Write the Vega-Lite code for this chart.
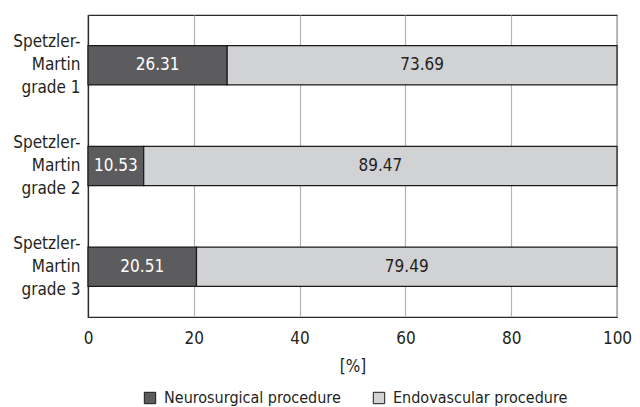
{
  "$schema": "https://vega.github.io/schema/vega-lite/v6.json",
  "autosize": {"type": "none"},
  "padding": {"left": 88, "top": 15, "right": 23, "bottom": 90},
  "width": 529,
  "height": 302,
  "background": "white",
  "config": {
    "font": "DejaVu Sans Condensed, Liberation Sans, sans-serif",
    "view": {"stroke": "#2a2a2a", "strokeWidth": 1.2},
    "axis": {"labelFont": "DejaVu Sans Condensed, Liberation Sans, sans-serif", "titleFont": "DejaVu Sans Condensed, Liberation Sans, sans-serif", "labelFontSize": 17, "titleFontSize": 17, "labelColor": "#231f20", "titleColor": "#231f20", "titleFontWeight": "normal"},
    "legend": {"labelFont": "DejaVu Sans Condensed, Liberation Sans, sans-serif", "labelFontSize": 16, "labelColor": "#231f20", "labelLimit": 400}
  },
  "data": {
    "values": [
      {"grade": "Spetzler-Martin grade 1", "procedure": "Neurosurgical procedure", "value": 26.31},
      {"grade": "Spetzler-Martin grade 1", "procedure": "Endovascular procedure", "value": 73.69},
      {"grade": "Spetzler-Martin grade 2", "procedure": "Neurosurgical procedure", "value": 10.53},
      {"grade": "Spetzler-Martin grade 2", "procedure": "Endovascular procedure", "value": 89.47},
      {"grade": "Spetzler-Martin grade 3", "procedure": "Neurosurgical procedure", "value": 20.51},
      {"grade": "Spetzler-Martin grade 3", "procedure": "Endovascular procedure", "value": 79.49}
    ]
  },
  "transform": [
    {"stack": "value", "groupby": ["grade"], "sort": [{"field": "procedure", "order": "descending"}], "as": ["x0", "x1"]},
    {"calculate": "(datum.x0 + datum.x1) / 2", "as": "xmid"}
  ],
  "encoding": {
    "y": {
      "field": "grade", "type": "nominal", "title": null,
      "scale": {"paddingInner": 0.61, "paddingOuter": 0.305},
      "axis": {
        "ticks": false, "tickSize": 0, "domain": true, "domainColor": "#2a2a2a", "domainWidth": 1.2,
        "labelPadding": 8, "labelLineHeight": 23, "labelOffset": -23,
        "labelExpr": "['Spetzler-', 'Martin', substring(datum.label, 16)]"
      }
    }
  },
  "layer": [
    {
      "mark": {"type": "bar", "stroke": "#1a1a1a", "strokeWidth": 1.2},
      "encoding": {
        "x": {
          "field": "x0", "type": "quantitative", "title": "[%]",
          "scale": {"domain": [0, 100], "nice": false},
          "axis": {"values": [0, 20, 40, 60, 80, 100], "ticks": false, "tickSize": 0, "labelPadding": 13, "titlePadding": 12, "grid": true, "gridColor": "#b3b3b3", "gridWidth": 1.2, "domainColor": "#2a2a2a", "domainWidth": 1.2, "labelFlush": false}
        },
        "x2": {"field": "x1"},
        "color": {
          "field": "procedure", "type": "nominal",
          "scale": {"domain": ["Neurosurgical procedure", "Endovascular procedure"], "range": ["#5c5c5e", "#d1d2d4"]},
          "legend": {"title": null, "orient": "none", "direction": "horizontal", "legendX": 54, "legendY": 375, "symbolType": "square", "symbolSize": 130, "symbolStrokeColor": "#1a1a1a", "symbolStrokeWidth": 1, "symbolOpacity": 1, "columnPadding": 30, "labelOffset": 6, "labelLimit": 400}
        }
      }
    },
    {
      "mark": {"type": "text", "fontSize": 17, "font": "DejaVu Sans Condensed, Liberation Sans, sans-serif", "align": "center", "baseline": "middle"},
      "encoding": {
        "x": {"field": "xmid", "type": "quantitative"},
        "text": {"field": "value", "type": "quantitative", "format": ".2f"},
        "color": {"condition": {"test": "datum.procedure === 'Neurosurgical procedure'", "value": "white"}, "value": "#231f20"}
      }
    }
  ]
}
